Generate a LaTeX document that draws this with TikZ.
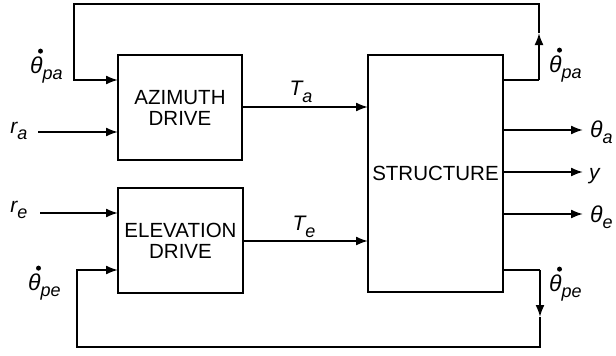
\documentclass[tikz,border=0pt]{standalone}
\usepackage{fontspec}
\setmainfont{Liberation Sans}
\usetikzlibrary{arrows.meta}
\newcommand\lsub[1]{\raisebox{-0.3em}{\fontsize{18}{18}\selectfont\itshape #1}}
\begin{document}
\begin{tikzpicture}[x=1pt,y=-1pt,
  blk/.style={draw,line width=2.4pt,inner sep=0pt,outer sep=0pt,align=center,
    font=\fontsize{20.5}{21}\selectfont},
  wire/.style={line width=1.9pt},
  arr/.style={wire,-{Latex[length=12pt,width=9pt]}},
  lbl/.style={font=\fontsize{21}{21}\selectfont\itshape,inner sep=0pt},
  thl/.style={font=\fontsize{23}{23}\selectfont\itshape,inner sep=0pt,anchor=base west},
  dotc/.style={fill=black}]
\useasboundingbox (0,0) rectangle (616,356);
\node[blk,minimum width=124pt,minimum height=105pt] (az) at (180,107.5) {AZIMUTH\\DRIVE};
\node[blk,minimum width=125pt,minimum height=105pt] (el) at (180.5,240.5) {ELEVATION\\DRIVE};
\node[blk,minimum width=135pt,minimum height=237pt] (st) at (435.5,173.5) {STRUCTURE};
% inputs
\coordinate (ra) at (38,132);
\coordinate (re) at (40,213);
\node[lbl] (lra) at (19,131) {r\lsub{a}};
\node[lbl] (lre) at (19,210) {r\lsub{e}};
\draw[arr] (ra) -- (ra -| az.west);
\draw[arr] (re) -- (re -| el.west);
% drive outputs
\draw[arr] (az.east |- 0,107) -- (st.west |- 0,107);
\draw[arr] (el.east |- 0,241) -- (st.west |- 0,241);
\node[lbl] (lta) at (301,92) {T\lsub{a}};
\node[lbl] (lte) at (304,227) {T\lsub{e}};
% structure outputs
\coordinate (oa) at (583,130);
\coordinate (oy) at (583,172);
\coordinate (oe) at (583,214);
\draw[arr] (st.east |- oa) -- (oa);
\draw[arr] (st.east |- oy) -- (oy);
\draw[arr] (st.east |- oe) -- (oe);
\node[thl] (lthA) at (590,137) {θ\lsub{a}};
\node[lbl,anchor=base west] (ly) at (589,179) {y};
\node[thl] (lthE) at (590,222) {θ\lsub{e}};
% azimuth feedback
\coordinate (a1) at (539,80);
\coordinate (a2) at (539,33);
\coordinate (a3) at (539,4);
\coordinate (a4) at (74,4);
\coordinate (a5) at (74,80);
\draw[wire] (st.east |- a1) -- (a1);
\draw[arr] (a1) -- (a2);
\draw[arr] (a2) -- (a3) -- (a4) -- (a5) -- (a5 -| az.west);
\node[thl] (lpa1) at (30,73) {θ\lsub{pa}};
\fill[dotc] ([xshift=10.5pt,yshift=5pt]lpa1.north west) circle (2.5pt);
\node[thl] (lpa2) at (549,72) {θ\lsub{pa}};
\fill[dotc] ([xshift=10.5pt,yshift=5pt]lpa2.north west) circle (2.5pt);
% elevation feedback
\coordinate (b1) at (540,270);
\coordinate (b2) at (540,317);
\coordinate (b3) at (540,347);
\coordinate (b4) at (77,347);
\coordinate (b5) at (77,270);
\draw[wire] (st.east |- b1) -- (b1);
\draw[arr] (b1) -- (b2);
\draw[arr] (b2) -- (b3) -- (b4) -- (b5) -- (b5 -| el.west);
\node[thl] (lpe1) at (28,290) {θ\lsub{pe}};
\fill[dotc] ([xshift=10.5pt,yshift=5pt]lpe1.north west) circle (2.5pt);
\node[thl] (lpe2) at (549,291) {θ\lsub{pe}};
\fill[dotc] ([xshift=10.5pt,yshift=5pt]lpe2.north west) circle (2.5pt);
\end{tikzpicture}
\end{document}
